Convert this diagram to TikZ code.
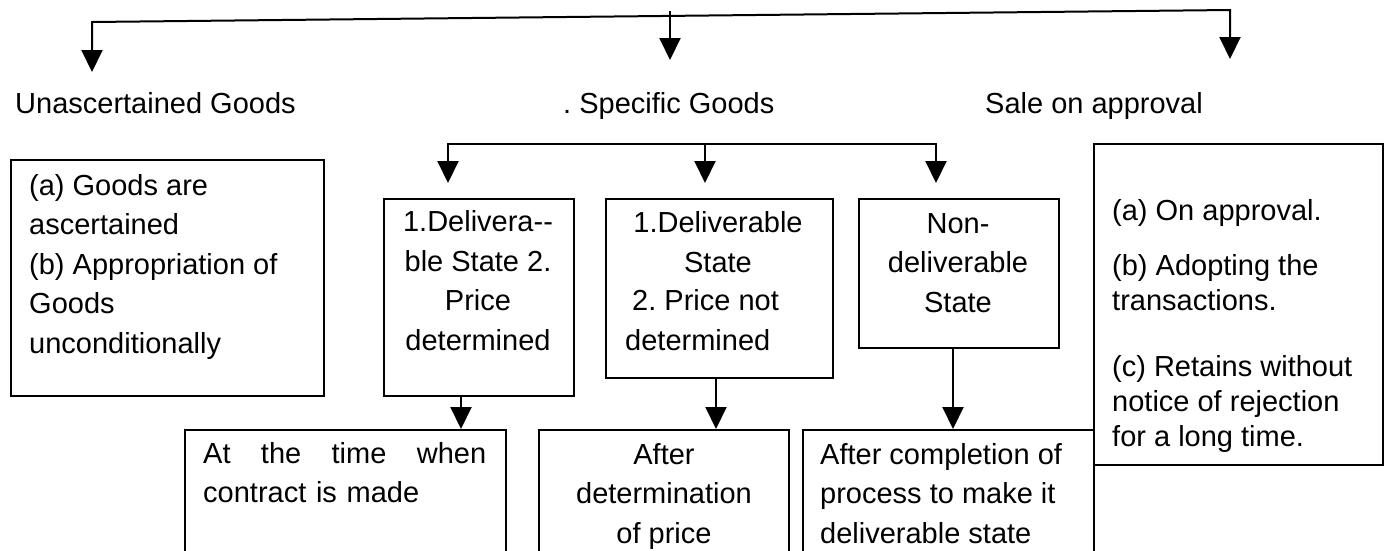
\documentclass[tikz,border=0pt]{standalone}
\usepackage{fontspec}
\setmainfont{Liberation Sans}
\usetikzlibrary{arrows.meta}
\frenchspacing

\tikzset{
  x=1pt, y=-1pt,
  arr/.style={line width=2pt, -{Triangle[width=21pt,length=22pt]}},
  twoarr/.style={line width=2pt, {Triangle[width=21pt,length=22pt]}-{Triangle[width=21pt,length=22pt]}},
  frame/.style={draw, line width=2pt, inner sep=0pt, anchor=north west},
  txt/.style={inner sep=0pt, font=\fontsize{29}{39.5}\selectfont},
  lbl/.style={inner sep=0pt, anchor=base west, font=\fontsize{29}{35}\selectfont},
}

\begin{document}
\begin{tikzpicture}
  \useasboundingbox (0,0) rectangle (1385,550);
  \fill[white] (0,0) rectangle (1385,550);
  \clip (0,0) rectangle (1385,550);

  % headings of the three kinds of goods
  \node[lbl] (unasc) at (15,113) {Unascertained Goods};
  \node[lbl] (spec)  at (563,113) {. Specific Goods};
  \node[lbl] (sale)  at (985,113) {Sale on approval};

  % frames
  \node[frame, minimum width=313pt, minimum height=236pt] (ubox) at (10,159) {};
  \node[frame, minimum width=190pt, minimum height=197pt] (dA) at (383,198) {};
  \node[frame, minimum width=227pt, minimum height=179pt] (dB) at (605,198) {};
  \node[frame, minimum width=200pt, minimum height=149pt] (nC) at (858,198) {};
  \node[frame, minimum width=289pt, minimum height=321pt] (sbox) at (1093,143) {};
  \node[frame, minimum width=321pt, minimum height=140pt] (tL) at (184,429) {};
  \node[frame, minimum width=250pt, minimum height=140pt] (tM) at (538,429) {};
  \node[frame, minimum width=291pt, minimum height=140pt] (tR) at (802,429) {};

  % texts inside the frames
  \node[txt, align=left, anchor=base west] (ubt) at (29,353)
    {(a) Goods are\\ascertained\\(b) Appropriation of\\Goods\\unconditionally};
  \node[txt, align=center, anchor=base] (dAt) at (478,350)
    {1.Delivera-{}-\\ble State 2.\\Price\\determined};
  \node[txt, align=center, anchor=base] (dBt1) at (718,272)
    {1.Deliverable\\State};
  \node[txt, align=left, anchor=base west] (dBt2) at (625,350)
    {\hspace*{7pt}2. Price not\\determined};
  \node[txt, align=center, anchor=base] (nCt) at (958,312)
    {Non-\\deliverable\\State};
  \node[inner sep=0pt, font=\fontsize{29}{35}\selectfont, align=left, anchor=base west] (sbt) at (1112,446)
    {(a) On approval.\\[20pt](b) Adopting the\\transactions.\\[31pt](c) Retains without\\notice of rejection\\for a long time.};
  \node[txt, align=left, text width=283pt, anchor=base west] (tLt) at (203,463)
    {At\hfill the\hfill time\hfill when\\contract is made};
  \node[txt, align=center, anchor=base] (tMt) at (664,543)
    {After\\determination\\of price};
  \node[txt, align=left, anchor=base west] (tRt) at (820,543)
    {After completion of\\process to make it\\deliverable state};

  % top level split
  \coordinate (tl) at (92,22);
  \coordinate (tr) at (1230,10);
  \coordinate (tc) at (670,11);
  \coordinate (ea) at (92,72);
  \coordinate (eb) at (1230,59);
  \coordinate (ec) at (670,60);
  \draw[twoarr, line join=miter] (ea) -- (tl) -- (tr) -- (eb);
  \draw[arr] (tc) -- (ec);

  % split of specific goods
  \coordinate (sl) at (448,144);
  \coordinate (sr) at (936,144);
  \coordinate (sc) at (705,144);
  \draw[twoarr, line join=miter] ([yshift=15pt]dA.north -| sl) -- (sl) -- (sr) -- ([yshift=15pt]nC.north -| sr);
  \draw[arr] (sc) -- ([yshift=15pt]dB.north -| sc);

  % from each state to the moment of transfer
  \coordinate (xa) at (461,0);
  \coordinate (xb) at (716,0);
  \coordinate (xc) at (953,0);
  \draw[arr] (dA.south -| xa) -- (tL.north -| xa);
  \draw[arr] (dB.south -| xb) -- (tM.north -| xb);
  \draw[arr] (nC.south -| xc) -- (tR.north -| xc);
\end{tikzpicture}
\end{document}
